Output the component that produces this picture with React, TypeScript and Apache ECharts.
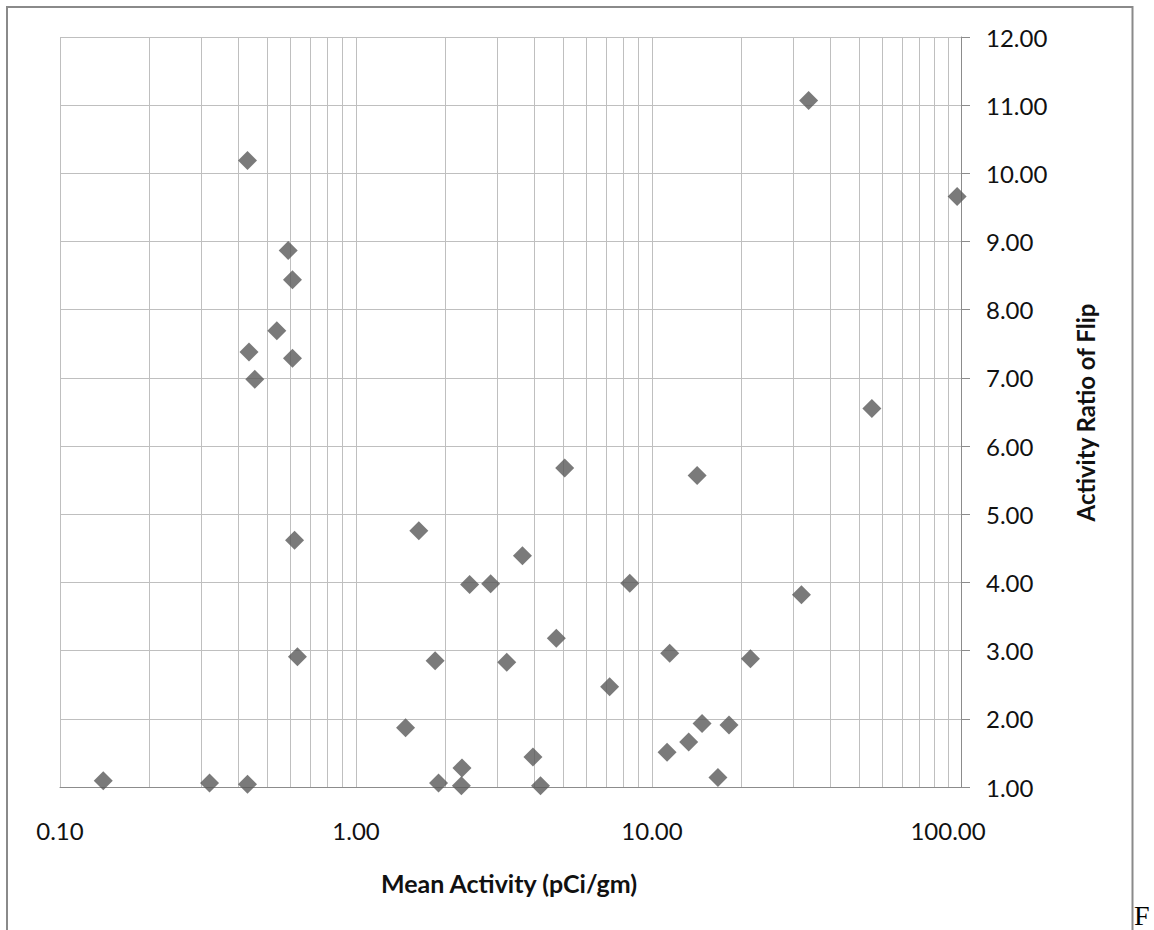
import React, { useEffect, useRef } from "react";
import * as echarts from "echarts";

// Mean Activity (pCi/gm) — x values (log scale)
const meanActivity = [
  0.14, 0.32, 0.43, 0.43, 0.59, 0.61, 0.54, 0.435, 0.61, 0.455,
  0.62, 0.634, 1.47, 1.63, 1.85, 1.9, 2.28, 2.27, 2.42, 2.85,
  3.23, 3.65, 3.96, 4.2, 4.75, 5.07, 7.19, 8.41, 11.24, 11.47,
  13.3, 14.2, 14.76, 16.7, 18.2, 21.5, 31.97, 33.8, 55.3, 107.3,
];
// Activity Ratio of Flip — y values
const activityRatio = [
  1.09, 1.06, 1.04, 10.19, 8.87, 8.44, 7.69, 7.38, 7.29, 6.98,
  4.62, 2.91, 1.87, 4.76, 2.85, 1.06, 1.28, 1.02, 3.97, 3.98,
  2.83, 4.39, 1.44, 1.02, 3.18, 5.68, 2.47, 3.99, 1.51, 2.96,
  1.66, 5.57, 1.93, 1.14, 1.91, 2.88, 3.82, 11.07, 6.55, 9.66,
];
// minor log gridlines
const minorGridValues = [
  0.2, 0.3, 0.4, 0.5, 0.6, 0.7, 0.8, 0.9,
  2, 3, 4, 5, 6, 7, 8, 9,
  20, 30, 40, 50, 60, 70, 80, 90,
];
const xMin = 0.1;
const xMax = 110.6;
const yMin = 1;
const yMax = 12;
const yInterval = 1;

const xTitle = "Mean Activity (pCi/gm)";
const yTitle = "Activity Ratio of Flip";

export default function App() {
  const ref = useRef<HTMLDivElement>(null);
  useEffect(() => {
    const chart = echarts.init(ref.current!, null, { renderer: "svg" });
    const grid = "#bfbfbf";
    const axisColor = "#8c8c8c";
    chart.setOption({
      animation: false,
      backgroundColor: "#ffffff",
      grid: { left: 60, top: 37, width: 901, height: 750 },
      xAxis: {
        type: "log",
        logBase: 10,
        min: xMin,
        max: xMax,
        axisLine: { show: true, onZero: false, lineStyle: { color: axisColor, width: 1 } },
        axisTick: { show: false },
        axisLabel: {
          formatter: (v: number) => Number(v).toFixed(2),
          showMaxLabel: false,
          margin: 31,
          fontFamily: "Lato",
          fontSize: 24,
          color: "#111",
        },
        splitLine: { show: true, lineStyle: { color: grid, width: 1 } },
        minorSplitLine: { show: false },
      },
      yAxis: {
        type: "value",
        position: "right",
        min: yMin,
        max: yMax,
        interval: yInterval,
        axisLine: { show: true, onZero: false, lineStyle: { color: axisColor, width: 1 } },
        axisTick: { show: true, length: 9, inside: false, lineStyle: { color: axisColor } },
        axisLabel: {
          formatter: (v: number) => Number(v).toFixed(2),
          margin: 25,
          fontFamily: "Lato",
          fontSize: 24,
          color: "#111",
        },
        splitLine: { show: true, lineStyle: { color: grid, width: 1 } },
      },
      series: [
        {
          type: "scatter",
          z: 10,
          data: meanActivity.map((x, i) => [x, activityRatio[i]]),
          symbol: "diamond",
          symbolSize: 19,
          itemStyle: { color: "#595959" },
          markLine: {
            z: 1,
            silent: true,
            symbol: ["none", "none"],
            label: { show: false },
            lineStyle: { color: grid, type: "solid", width: 1 },
            emphasis: { disabled: true },
            data: minorGridValues.map((v) => ({ xAxis: v })),
          },
        },
      ],
      graphic: [
        {
          type: "rect",
          silent: true,
          shape: { x: 7, y: 7, width: 1125.5, height: 1000 },
          style: { fill: "none", stroke: "#8a8a8a", lineWidth: 2 },
        },
        {
          type: "text",
          x: 509,
          y: 882.5,
          style: {
            text: xTitle,
            font: 'bold 25px Lato',
            fill: "#111",
            align: "center",
            verticalAlign: "middle",
            textAlign: "center",
            textVerticalAlign: "middle",
          },
        },
        {
          type: "text",
          x: 1085,
          y: 412.5,
          rotation: Math.PI / 2,
          style: {
            text: yTitle,
            font: 'bold 24px Lato',
            fill: "#111",
            align: "center",
            verticalAlign: "middle",
            textAlign: "center",
            textVerticalAlign: "middle",
          },
        },
        {
          type: "text",
          x: 1134,
          y: 915,
          style: {
            text: "F",
            font: '28px "Liberation Serif"',
            fill: "#000",
            align: "left",
            verticalAlign: "middle",
            textAlign: "left",
            textVerticalAlign: "middle",
          },
        },
      ],
    });
    return () => chart.dispose();
  }, []);
  return (
    <div
      ref={ref}
      style={{ position: "absolute", left: 0, top: 0, width: 1154, height: 930, background: "#fff" }}
    />
  );
}
